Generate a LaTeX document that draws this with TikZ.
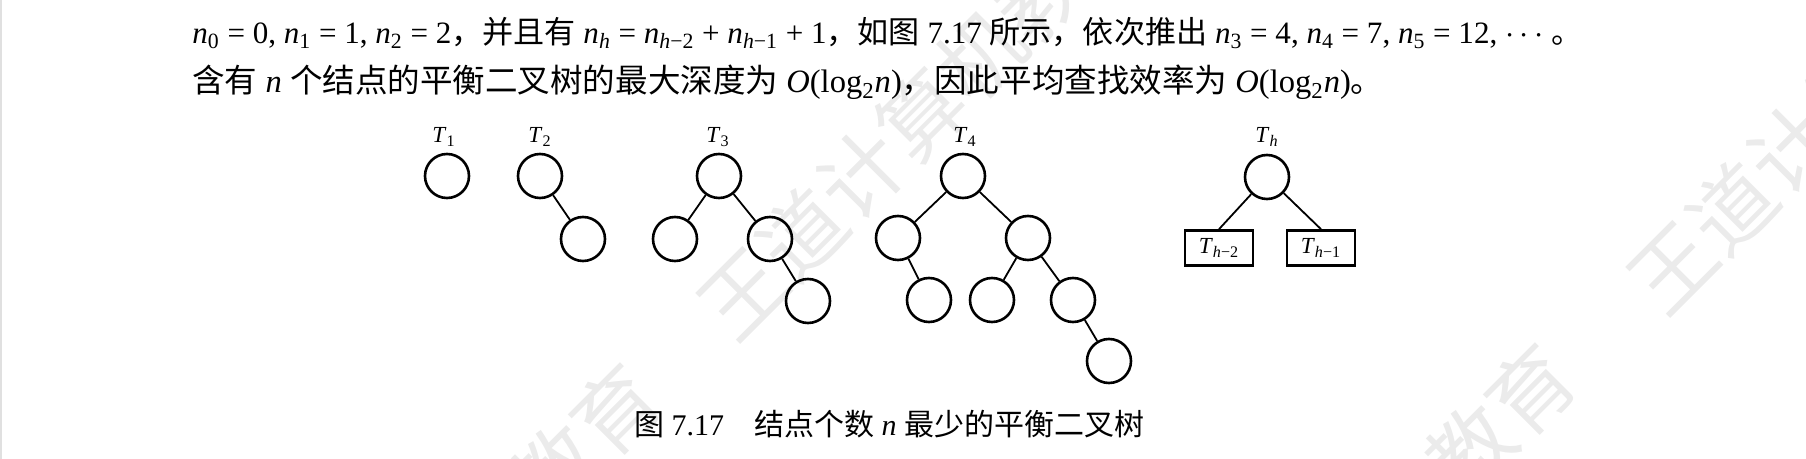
\documentclass[tikz,border=0pt]{standalone}
\usepackage{graphicx}
\usepackage{fontspec}
\setmainfont{Liberation Serif}
\newfontfamily\cjk{Noto Sans CJK SC}
\newcommand{\zh}[1]{{\cjk #1}}
\newcommand{\iv}[1]{\textit{#1}}
\newcommand{\sub}[1]{\textsubscript{#1}}

\begin{document}
\begin{tikzpicture}[x=0.5pt,y=-0.5pt,
  vertex/.style={circle, draw=black, line width=1.3pt, minimum size=22pt, inner sep=0pt},
  subtree/.style={rectangle, draw=black, line width=1.3pt, minimum width=34pt, minimum height=17.5pt, inner sep=0pt, font=\fontsize{11.5}{13}\selectfont},
  treelabel/.style={anchor=base, font=\fontsize{11.5}{13}\selectfont},
  textline/.style={anchor=base west, inner sep=0pt, font=\fontsize{16.3}{19}\selectfont},
  wmark/.style={anchor=west, inner sep=0pt, rotate=45, text=black!8, font=\cjk\fontsize{42}{46}\selectfont},
  edge/.style={line width=0.9pt}]
\useasboundingbox (0,0) rectangle (1806,459);
\fill[black!12] (0,0) rectangle (2,459);

% watermark
\node[wmark] (wa) at (229,796) {王道计算机教育};
\node[wmark] (wb) at (713,323) {王道计算机教育};
\node[wmark] (wc) at (1643,297) {王道计算机教育};
\node[wmark] (wd) at (1144,776) {王道计算机教育};

% text above the figure
\node[textline] (line1) at (192,44) {\resizebox{695pt}{!}{\iv{n}\sub{0} = 0, \iv{n}\sub{1} = 1, \iv{n}\sub{2} = 2\zh{，并且有} \iv{n}\sub{\iv{h}} = \iv{n}\sub{\iv{h}−2} + \iv{n}\sub{\iv{h}−1} + 1\zh{，如图} 7.17 \zh{所示，依次推出} \iv{n}\sub{3} = 4, \iv{n}\sub{4} = 7, \iv{n}\sub{5} = 12, $\cdots$ \zh{。}}};
\node[textline] (line2) at (192,93) {\resizebox{595.5pt}{!}{\zh{含有} \iv{n} \zh{个结点的平衡二叉树的最大深度为} \iv{O}(log\sub{2}\iv{n})\zh{，因此平均查找效率为} \iv{O}(log\sub{2}\iv{n})\zh{。}}};

% labels
\node[treelabel] (l1) at (444,143) {\iv{T}\sub{1}};
\node[treelabel] (l2) at (540,143) {\iv{T}\sub{2}};
\node[treelabel] (l3) at (718,143) {\iv{T}\sub{3}};
\node[treelabel] (l4) at (965,143) {\iv{T}\sub{4}};
\node[treelabel] (lh) at (1267,143) {\iv{T}\sub{\iv{h}}};

% T1
\node[vertex] (a1) at (447,176) {};

% T2
\node[vertex] (b1) at (540,176) {};
\node[vertex] (b2) at (583,239) {};
\draw[edge] (b1) -- (b2);

% T3
\node[vertex] (c1) at (719,176) {};
\node[vertex] (c2) at (675,239) {};
\node[vertex] (c3) at (770,239) {};
\node[vertex] (c4) at (808,301) {};
\draw[edge] (c1) -- (c2);
\draw[edge] (c1) -- (c3);
\draw[edge] (c3) -- (c4);

% T4
\node[vertex] (d1) at (963,176) {};
\node[vertex] (d2) at (898,238) {};
\node[vertex] (d3) at (1028,238) {};
\node[vertex] (d4) at (929,300) {};
\node[vertex] (d5) at (992,300) {};
\node[vertex] (d6) at (1073,300) {};
\node[vertex] (d7) at (1109,361) {};
\draw[edge] (d1) -- (d2);
\draw[edge] (d1) -- (d3);
\draw[edge] (d2) -- (d4);
\draw[edge] (d3) -- (d5);
\draw[edge] (d3) -- (d6);
\draw[edge] (d6) -- (d7);

% Th
\node[vertex] (h1) at (1267,177) {};
\node[subtree] (h2) at (1219,248) {\iv{T}\sub{\iv{h}−2}};
\node[subtree] (h3) at (1321,248) {\iv{T}\sub{\iv{h}−1}};
\draw[edge] (h1) -- (h2.north);
\draw[edge] (h1) -- (h3.north);

% caption
\node[anchor=base, inner sep=0pt, font=\fontsize{15}{18}\selectfont] (cap) at (889,436) {\zh{图} 7.17\quad\zh{结点个数} \iv{n} \zh{最少的平衡二叉树}};
\end{tikzpicture}
\end{document}
